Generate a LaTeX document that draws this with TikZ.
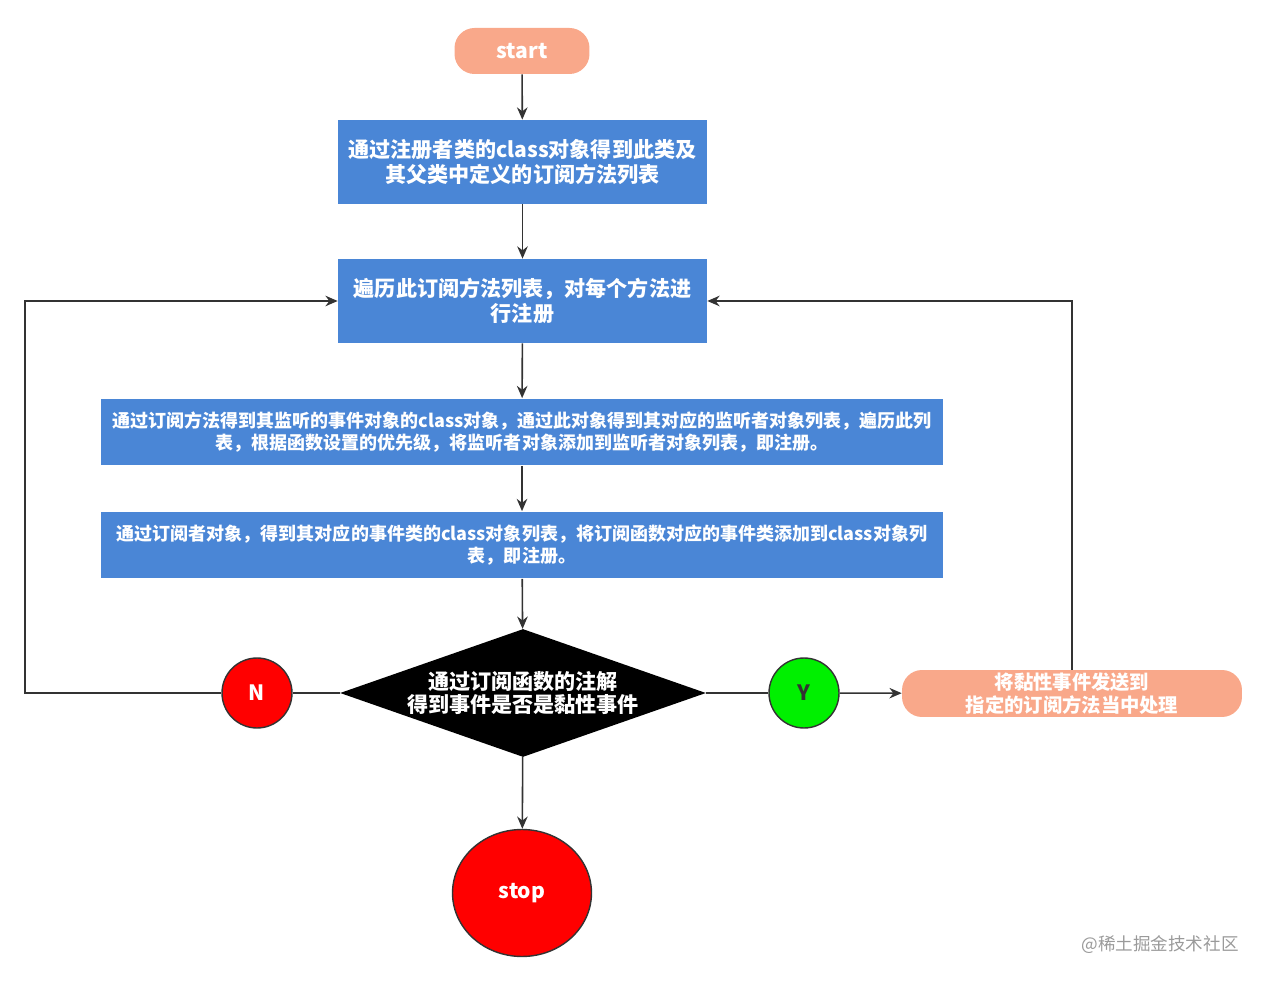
\documentclass[tikz,border=0pt]{standalone}
\usepackage{fontspec}
\setmainfont{Noto Sans CJK SC}
\usepackage{tikz}
\usetikzlibrary{arrows.meta,shapes.geometric}
\definecolor{salmon}{HTML}{F9A88A}
\definecolor{stepblue}{HTML}{4A86D6}
\definecolor{linegray}{HTML}{333333}
\definecolor{yesgreen}{HTML}{00F000}
\definecolor{markgray}{HTML}{9A9A9A}
\tikzset{
	box/.style={fill=stepblue, text=white, align=center, inner sep=0pt,
		font=\bfseries\fontsize{12}{14.7}\selectfont, minimum width=7.38cm, minimum height=1.68cm},
	widebox/.style={box, font=\bfseries\fontsize{10.25}{12.5}\selectfont,
		minimum width=16.84cm, minimum height=1.34cm},
	term/.style={fill=salmon, text=white, align=center, inner sep=0pt, rounded corners=0.4cm,
		font=\bfseries\fontsize{12}{14}\selectfont},
	decision/.style={diamond, fill=black, text=white, align=center, inner sep=0pt, shape aspect=2.86,
		font=\bfseries\fontsize{12}{13.6}\selectfont, minimum width=7.32cm, minimum height=2.56cm},
	dot/.style={circle, draw=linegray, line width=0.8pt, inner sep=0pt, minimum size=1.4cm,
		font=\bfseries\fontsize{12}{14}\selectfont},
	line/.style={draw=linegray, line width=0.9pt},
	arr/.style={line, -{Stealth[length=7pt,width=6pt]}}
}
\begin{document}
\begin{tikzpicture}[x=0.02cm,y=-0.02cm]
	\useasboundingbox (0,0) rectangle (1267,982);
	% main column
	\node[term, minimum width=2.7cm, minimum height=0.92cm] (st) at (522,51) {start};
	\node[box] (b1) at (522.5,162) {通过注册者类的class对象得到此类及\\其父类中定义的订阅方法列表};
	\node[box] (b2) at (522.5,301) {遍历此订阅方法列表，对每个方法进\\行注册};
	\node[widebox] (b3) at (522,432) {通过订阅方法得到其监听的事件对象的class对象，通过此对象得到其对应的监听者对象列表，遍历此列\\表，根据函数设置的优先级，将监听者对象添加到监听者对象列表，即注册。};
	\node[widebox] (b4) at (522,545) {通过订阅者对象，得到其对应的事件类的class对象列表，将订阅函数对应的事件类添加到class对象列\\表，即注册。};
	\node[decision] (dec) at (523,693) {通过订阅函数的注解\\得到事件是否是黏性事件};
	\node[ellipse, draw=linegray, line width=0.8pt, fill=red, text=white, inner sep=0pt,
		minimum width=2.78cm, minimum height=2.54cm, font=\bfseries\fontsize{12}{14}\selectfont] (stop) at (522,893) {stop};
	% branches
	\node[dot, fill=red, text=white] (no) at (257,693) {N};
	\node[dot, fill=yesgreen, text=linegray] (yes) at (804,693) {Y};
	\node[term, minimum width=6.8cm, minimum height=0.94cm, font=\bfseries\fontsize{11}{12.8}\selectfont] (sticky) at (1072,693.5) {将黏性事件发送到\\指定的订阅方法当中处理};
	\node[text=markgray, font=\fontsize{10}{12}\selectfont] (mark) at (1160,945) {@稀土掘金技术社区};

	\foreach \a/\b in {st/b1,b1/b2,b2/b3,b3/b4,b4/dec,dec/stop}
		\draw[arr] (\a) -- (\b);
	\draw[line] (dec) -- (no);
	\draw[line] (dec) -- (yes);
	\draw[arr] (yes) -- (sticky);
	% loops back to the method list
	\coordinate (back) at (25,693);
	\draw[arr] (no) -- (back) |- (b2);
	\draw[arr] (sticky) |- (b2);
\end{tikzpicture}
\end{document}
